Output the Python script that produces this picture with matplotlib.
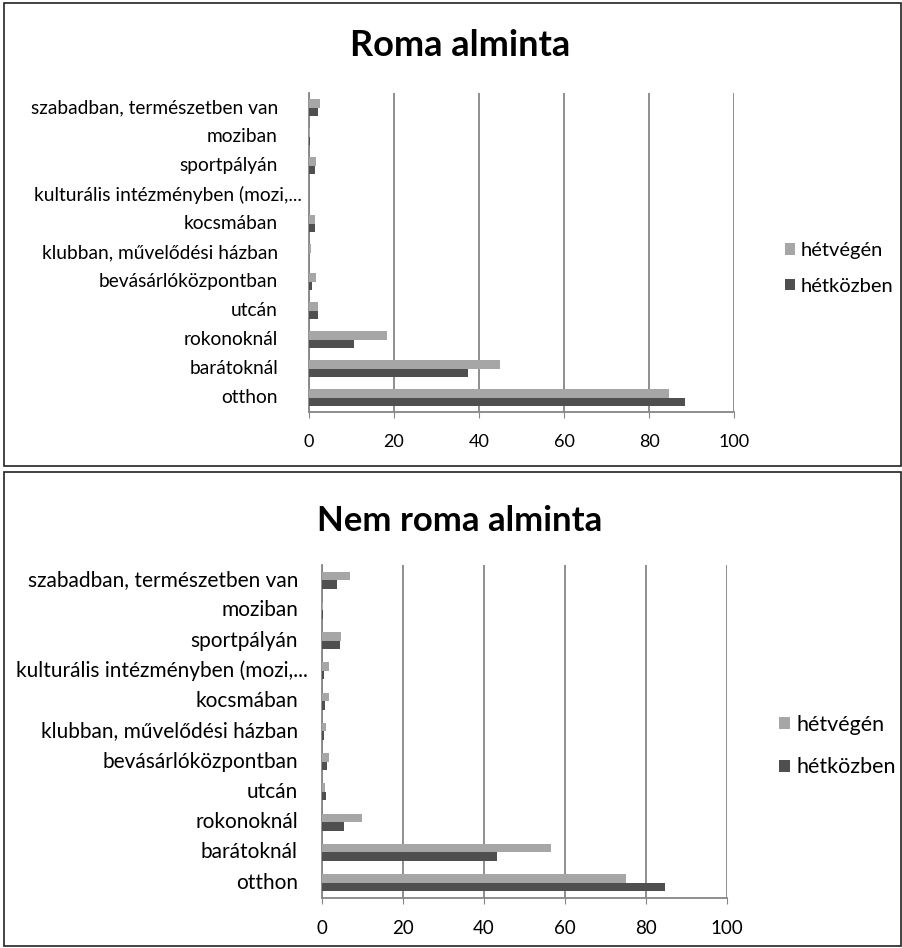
import matplotlib
matplotlib.use("Agg")
import matplotlib.pyplot as plt
from matplotlib.patches import Rectangle
from matplotlib.transforms import blended_transform_factory
import numpy as np

plt.rcParams['font.family'] = ['Lato', 'DejaVu Sans']

# categories, bottom to top
categories = ['otthon', 'barátoknál', 'rokonoknál', 'utcán', 'bevásárlóközpontban',
              'klubban, művelődési házban', 'kocsmában', 'kulturális intézményben (mozi,...',
              'sportpályán', 'moziban', 'szabadban, természetben van']

roma_hetvegen = [84.7, 44.9, 18.3, 2.2, 1.6, 0.5, 1.5, 0.1, 1.6, 0.2, 2.7]
roma_hetkozben = [88.5, 37.3, 10.7, 2.0, 0.8, 0.1, 1.3, 0.0, 1.5, 0.2, 2.0]

nemroma_hetvegen = [75.1, 56.5, 9.9, 0.7, 1.9, 1.1, 1.7, 1.7, 4.8, 0.4, 7.0]
nemroma_hetkozben = [84.7, 43.4, 5.4, 1.1, 1.3, 0.5, 0.8, 0.5, 4.5, 0.3, 3.9]

light = '#a6a6a6'
dark = '#4f4f4f'
grid = '#868686'

fig = plt.figure(figsize=(9.03, 9.48), dpi=100)
W, H = 903, 948

# outer chart boxes
for top, bottom in [(3, 466), (472, 946)]:
    fig.patches.append(Rectangle((4 / W, 1 - bottom / H), 897 / W, (bottom - top) / H,
                                 transform=fig.transFigure, fill=False,
                                 edgecolor='#222222', linewidth=1.2))


def draw(rect, title, title_base, title_size, hetvegen, hetkozben,
         label_end, long_end, label_size, tick_size, legend_x, legend_y, leg_size, spacing):
    ax = fig.add_axes(rect)
    y = np.arange(len(categories))
    h = 0.28
    ax.barh(y + h / 2, hetvegen, height=h, color=light, label='hétvégén', zorder=3)
    ax.barh(y - h / 2, hetkozben, height=h, color=dark, label='hétközben', zorder=3)
    ax.set_xlim(0, 100)
    ax.set_ylim(-0.5, len(categories) - 0.5)
    ax.set_xticks([0, 20, 40, 60, 80, 100])
    ax.set_yticks(y)
    ax.set_yticklabels([])
    ax.tick_params(axis='y', length=0)
    ax.tick_params(axis='x', length=4, color=grid, pad=12, labelsize=tick_size)
    # category labels, right aligned; the truncated one sits closer to the axis
    tr = blended_transform_factory(fig.transFigure, ax.transData)
    for i, name in enumerate(categories):
        x_end = long_end if name.endswith('...') else label_end
        ax.text(x_end / W, y[i], name, transform=tr, ha='right', va='center',
                fontsize=label_size)
    ax.grid(axis='x', color=grid, linewidth=1.3, zorder=0)
    for s in ['top', 'right']:
        ax.spines[s].set_visible(False)
    for s in ['left', 'bottom']:
        ax.spines[s].set_color(grid)
        ax.spines[s].set_linewidth(1.3)
    fig.text(460 / W, 1 - title_base / H, title, ha='center', va='baseline',
             fontsize=title_size, fontweight='bold')
    handles, labels = ax.get_legend_handles_labels()
    fig.legend(handles, labels, loc='center left',
               bbox_to_anchor=(legend_x / W, 1 - legend_y / H), frameon=False,
               borderpad=0, borderaxespad=0,
               fontsize=leg_size, handlelength=0.5, handleheight=0.5,
               handletextpad=0.3, labelspacing=spacing)
    return ax


draw([309 / W, 1 - 412 / H, 425 / W, 319 / H], 'Roma alminta', 56, 26,
     roma_hetvegen, roma_hetkozben, 278, 302, 13.8, 13, 785, 268.5, 14.5, 0.92)
draw([321.7 / W, 1 - 897.7 / H, 405 / W, 332.7 / H], 'Nem roma alminta', 531, 25,
     nemroma_hetvegen, nemroma_hetkozben, 298, 308, 15, 13.5, 779, 746, 15.5, 1.05)

fig.savefig('out.png', dpi=100)
